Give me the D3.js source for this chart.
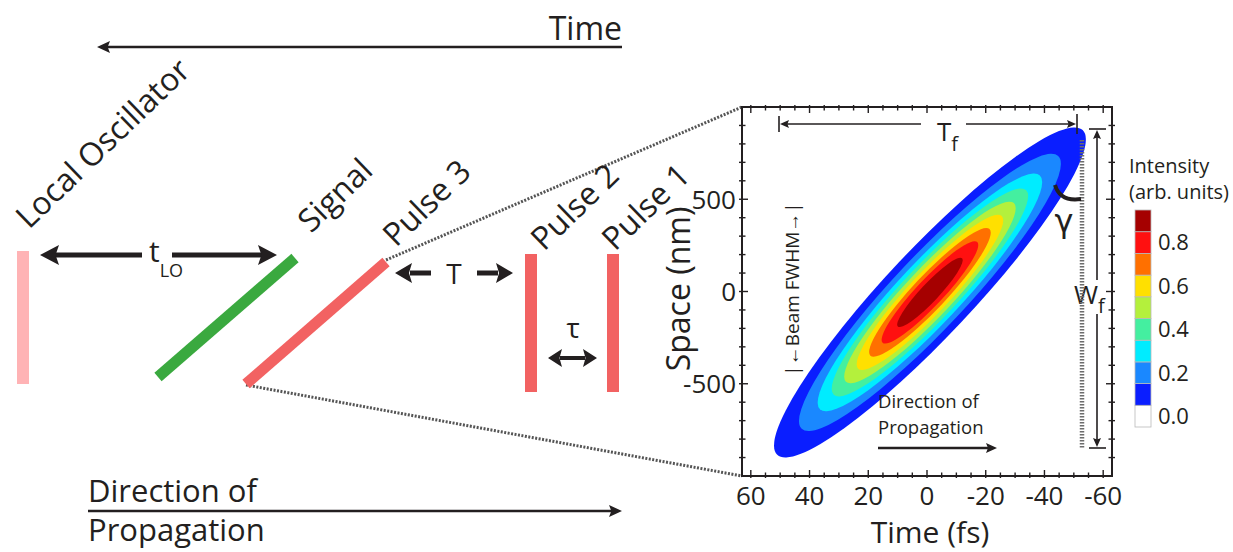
<!DOCTYPE html>
<html lang="en">
<head>
<meta charset="utf-8">
<script src="https://d3js.org/d3.v7.min.js"></script>
<style>
  body { margin: 0; background: #fff; }
  text { font-family: "Open Sans", sans-serif; fill: #231f20; }
</style>
</head>
<body>
<script>
// values
const timeTicks = [60, 40, 20, 0, -20, -40, -60];          // fs
const spaceTicks = [-500, 0, 500];                          // nm
const levels = [0.1, 0.2, 0.3, 0.4, 0.5, 0.6, 0.7, 0.8, 0.9];
const levelColors = ["#0a1eff", "#1a88ff", "#00ecff", "#44efa0", "#b4f03c",
                     "#ffe000", "#ff7000", "#ff1010", "#a50000"];
const colorbarColors = ["#ffffff"].concat(levelColors);     // 0.0 ... 0.9
const colorbarLabels = [0.0, 0.2, 0.4, 0.6, 0.8];
// size of each contour relative to the outer (0.1) contour
const contourScale = [1, 0.84, 0.72, 0.63, 0.55, 0.47, 0.39, 0.31, 0.21];
const pulseCenter = [-1, -5];     // fs, nm
const pulseTip = [-52, 880];      // tip of outer contour relative to centre (fs, nm)
const pulseWidthRatio = 0.194;    // minor / major

const W = 1233, H = 552;
const ink = "#231f20";

const svg = d3.select("body").append("svg")
  .attr("width", W).attr("height", H);

svg.append("rect").attr("width", W).attr("height", H).attr("fill", "#fff");

function head(g, x, y, angle, len, hw) {
  g.append("path")
    .attr("d", `M0,0 L${-len},${-hw} L${-len * 0.82},0 L${-len},${hw} Z`)
    .attr("transform", `translate(${x},${y}) rotate(${angle})`)
    .attr("fill", ink);
}
function line(g, x1, y1, x2, y2, w) {
  return g.append("line")
    .attr("x1", x1).attr("y1", y1).attr("x2", x2).attr("y2", y2)
    .attr("stroke", ink).attr("stroke-width", w);
}

// ---------------- left schematic ----------------
const sch = svg.append("g");

// Time arrow
line(sch, 106, 47, 622, 47, 2.5);
head(sch, 97, 47, 180, 13, 6);
sch.append("text").attr("x", 622).attr("y", 40).attr("text-anchor", "end")
  .style("font-size", "32px").text("Time");

// Direction of propagation
sch.append("text").attr("x", 88).attr("y", 502).style("font-size", "31px").text("Direction of");
sch.append("text").attr("x", 88).attr("y", 541).style("font-size", "31px").text("Propagation");
line(sch, 88, 511, 612, 511, 2.5);
head(sch, 622, 511, 0, 13, 6);

// dotted lines to the zoomed plot
const plot = {left: 742, right: 1112, top: 107, bottom: 476};
sch.append("line").attr("x1", 386).attr("y1", 260).attr("x2", plot.left).attr("y2", plot.top)
  .attr("stroke", "#555").attr("stroke-width", 3).attr("stroke-dasharray", "2,1.5");
sch.append("line").attr("x1", 246).attr("y1", 385).attr("x2", plot.left).attr("y2", plot.bottom)
  .attr("stroke", "#555").attr("stroke-width", 3).attr("stroke-dasharray", "2,1.5");

// pulses
sch.append("rect").attr("x", 17).attr("y", 251).attr("width", 12).attr("height", 133).attr("fill", "#ffb3b5");
sch.append("line").attr("x1", 158).attr("y1", 377).attr("x2", 295).attr("y2", 258)
  .attr("stroke", "#3aa93f").attr("stroke-width", 11);
sch.append("line").attr("x1", 246).attr("y1", 384).attr("x2", 386).attr("y2", 262)
  .attr("stroke", "#f26262").attr("stroke-width", 11);
sch.append("rect").attr("x", 525).attr("y", 254).attr("width", 12).attr("height", 138).attr("fill", "#f26262");
sch.append("rect").attr("x", 607).attr("y", 254).attr("width", 12).attr("height", 138).attr("fill", "#f26262");

// rotated labels
[["Local Oscillator", 29, 230], ["Signal", 311, 234], ["Pulse 3", 396, 248],
 ["Pulse 2", 544, 252], ["Pulse 1", 615, 252]].forEach(([t, x, y]) => {
  sch.append("text").attr("transform", `translate(${x},${y}) rotate(-44)`)
    .style("font-size", "32px").text(t);
});

// t_LO
line(sch, 55, 255, 142, 255, 5);
line(sch, 172, 255, 262, 255, 5);
head(sch, 40, 255, 180, 19, 10);
head(sch, 277, 255, 0, 19, 10);
const tlo = sch.append("text").attr("x", 149).attr("y", 262).style("font-size", "30px");
tlo.append("tspan").text("t");
tlo.append("tspan").attr("dy", 15).style("font-size", "18px").text("LO");

// T
line(sch, 410, 273, 431, 273, 5);
head(sch, 395, 273, 180, 17, 10);
line(sch, 477, 273, 498, 273, 5);
head(sch, 513, 273, 0, 17, 10);
sch.append("text").attr("x", 454).attr("y", 284).attr("text-anchor", "middle")
  .style("font-size", "28px").text("T");

// tau
line(sch, 560, 358, 585, 358, 4);
head(sch, 548, 358, 180, 14, 9);
head(sch, 597, 358, 0, 14, 9);
sch.append("text").attr("x", 573).attr("y", 338).attr("text-anchor", "middle")
  .style("font-size", "28px").text("τ");

// ---------------- contour plot ----------------
const x = d3.scaleLinear().domain([63, -63]).range([plot.left, plot.right]);
const y = d3.scaleLinear().domain([-1000, 1000]).range([plot.bottom, plot.top]);

svg.append("clipPath").attr("id", "clip").append("rect")
  .attr("x", plot.left).attr("y", plot.top)
  .attr("width", plot.right - plot.left).attr("height", plot.bottom - plot.top);

const cx = x(pulseCenter[0]), cy = y(pulseCenter[1]);
const vx = x(pulseCenter[0] + pulseTip[0]) - cx;
const vy = y(pulseCenter[1] + pulseTip[1]) - cy;
const a = Math.hypot(vx, vy);
const ang = Math.atan2(vy, vx) * 180 / Math.PI;

svg.append("g").attr("clip-path", "url(#clip)")
  .selectAll("ellipse").data(levels).join("ellipse")
  .attr("cx", 0).attr("cy", 0)
  .attr("rx", (d, i) => a * contourScale[i])
  .attr("ry", (d, i) => a * contourScale[i] * pulseWidthRatio)
  .attr("transform", `translate(${cx},${cy}) rotate(${ang})`)
  .attr("fill", (d, i) => levelColors[i]);

// frame and ticks
const ax = svg.append("g");
ax.append("rect").attr("x", plot.left).attr("y", plot.top)
  .attr("width", plot.right - plot.left).attr("height", plot.bottom - plot.top)
  .attr("fill", "none").attr("stroke", ink).attr("stroke-width", 2);

const xt = d3.range(-60, 61, 5);
const yt = d3.range(-900, 901, 100);
xt.forEach(v => {
  const L = v % 20 === 0 ? 6 : 3.5;
  line(ax, x(v), plot.bottom - L, x(v), plot.bottom + 2, 1.4);
  line(ax, x(v), plot.top + L, x(v), plot.top - 2, 1.4);
});
yt.forEach(v => {
  const L = v % 500 === 0 ? 6 : 3.5;
  line(ax, plot.left - 3, y(v), plot.left + L, y(v), 1.4);
  line(ax, plot.right + 3, y(v), plot.right - L, y(v), 1.4);
});

ax.selectAll(".xl").data(timeTicks).join("text")
  .attr("x", d => x(d)).attr("y", 505).attr("text-anchor", "middle")
  .style("font-size", "26px").text(d => d);
ax.selectAll(".yl").data(spaceTicks).join("text")
  .attr("x", 736).attr("y", d => y(d)).attr("dy", "0.36em").attr("text-anchor", "end")
  .style("font-size", "26px").text(d => d);

ax.append("text").attr("x", 930).attr("y", 543).attr("text-anchor", "middle")
  .style("font-size", "30px").text("Time (fs)");
ax.append("text").attr("transform", "translate(690,289) rotate(-90)").attr("text-anchor", "middle")
  .style("font-size", "32px").text("Space (nm)");

// annotations inside the plot
const an = svg.append("g");
// T_f
line(an, 779, 116, 779, 132, 1.6);
line(an, 1077, 114, 1077, 134, 1.6);
line(an, 787, 124, 921, 124, 1.6);
line(an, 966, 124, 1069, 124, 1.6);
head(an, 780, 124, 180, 9, 4);
head(an, 1076, 124, 0, 9, 4);
const tf = an.append("text").attr("x", 937).attr("y", 141).style("font-size", "26px");
tf.append("tspan").text("T");
tf.append("tspan").attr("dy", 10).style("font-size", "20px").text("f");

// W_f
line(an, 1089, 129, 1106, 129, 1.6);
line(an, 1089, 448, 1106, 448, 1.6);
line(an, 1097, 137, 1097, 280, 1.6);
line(an, 1097, 314, 1097, 440, 1.6);
head(an, 1097, 130, -90, 9, 4);
head(an, 1097, 447, 90, 9, 4);
const wf = an.append("text").attr("x", 1074).attr("y", 304).style("font-size", "26px");
wf.append("tspan").text("W");
wf.append("tspan").attr("dy", 9).style("font-size", "20px").text("f");

// dotted guide and gamma
an.append("line").attr("x1", 1082).attr("y1", 140).attr("x2", 1082).attr("y2", 448)
  .attr("stroke", "#6d6d6d").attr("stroke-width", 4.5).attr("stroke-dasharray", "1.5,1.5");
an.append("path").attr("d", "M1055,185 Q1060,202 1081,199")
  .attr("fill", "none").attr("stroke", ink).attr("stroke-width", 4);
an.append("text").attr("x", 1064).attr("y", 232).attr("text-anchor", "middle")
  .style("font-family", "'DejaVu Sans', sans-serif").style("font-size", "32px").text("γ");

// beam FWHM
an.append("text").attr("transform", "translate(799,289) rotate(-90)").attr("text-anchor", "middle")
  .style("font-size", "19px").text("|←Beam FWHM→|");

// direction of propagation (inside)
an.append("text").attr("x", 878).attr("y", 408).style("font-size", "18.5px").text("Direction of");
an.append("text").attr("x", 878).attr("y", 434).style("font-size", "18.5px").text("Propagation");
line(an, 878, 448, 988, 448, 2.5);
head(an, 997, 448, 0, 11, 5);

// ---------------- colour bar ----------------
const cb = svg.append("g");
const cbY = d3.scaleBand().domain(d3.range(colorbarColors.length).reverse()).range([210, 427]);
cb.selectAll("rect").data(colorbarColors).join("rect")
  .attr("x", 1135).attr("y", (d, i) => cbY(i)).attr("width", 16).attr("height", cbY.bandwidth())
  .attr("fill", d => d).attr("stroke", "#b9b9b9").attr("stroke-width", 0.8);
cb.selectAll("text.l").data(colorbarLabels).join("text")
  .attr("x", 1158).attr("y", d => cbY(Math.round(d * 10)) + cbY.bandwidth() / 2)
  .attr("dy", "0.36em").style("font-size", "22px").text(d => d.toFixed(1));
cb.append("text").attr("x", 1129).attr("y", 173).style("font-size", "20px").text("Intensity");
cb.append("text").attr("x", 1129).attr("y", 199).style("font-size", "20px").text("(arb. units)");
</script>
</body>
</html>
